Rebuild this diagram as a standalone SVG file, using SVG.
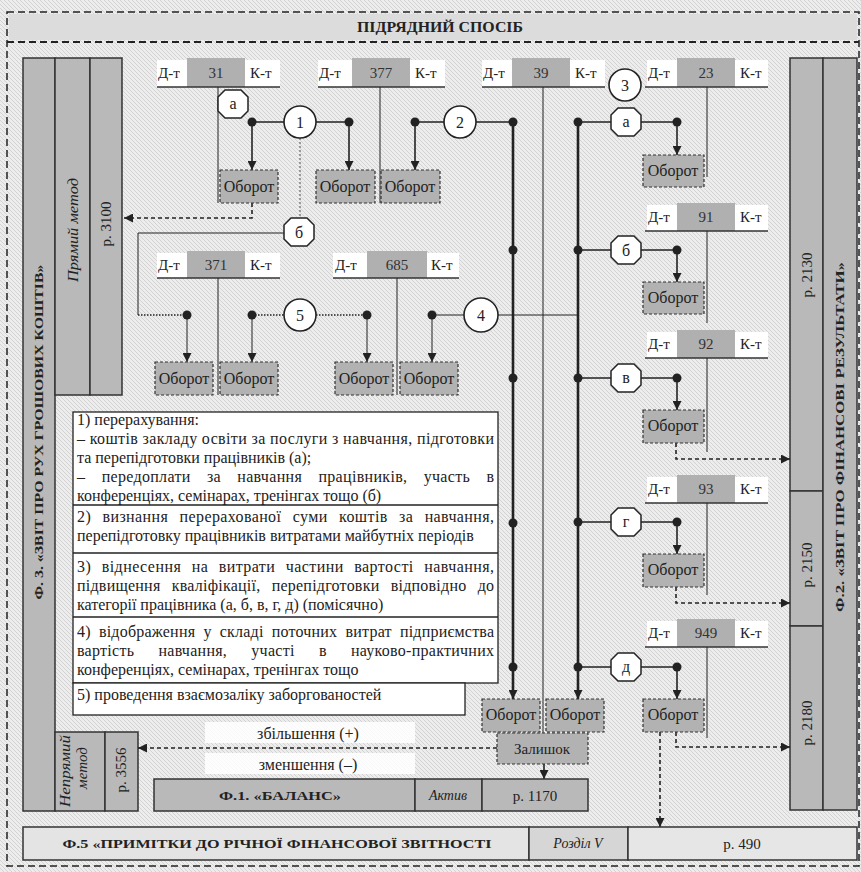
<svg xmlns="http://www.w3.org/2000/svg" width="861" height="872" viewBox="0 0 861 872">
<defs>
<pattern id="hatch" patternUnits="userSpaceOnUse" width="4" height="4">
<rect width="4" height="4" fill="#ededed"/>
<path d="M-1,-1 L5,5 M-1,3 L1,5 M3,-1 L5,1" stroke="#d2d2d2" stroke-width="1"/>
</pattern>
<marker id="ah" viewBox="0 0 10 10" refX="10" refY="5" markerWidth="9" markerHeight="9" markerUnits="userSpaceOnUse" orient="auto"><path d="M0,0 L10,5 L0,10 z" fill="#222"/></marker>
<path id="oct" d="M-8,-14 L8,-14 L15,-7 L15,7 L8,14 L-8,14 L-15,7 L-15,-7 Z"/>
</defs>
<style>
text{font-family:"Liberation Serif","Times New Roman",serif;fill:#222}
.acc{font-size:15px}
.ob-t{font-size:16px}
.num{font-size:15px;fill:#333}
.ctr{text-anchor:middle}
.b{font-weight:bold}
.i{font-style:italic}
.w{fill:#ffffff}
.g{fill:#b0b0b0}
.pan{fill:#b9b9b9;stroke:#333;stroke-width:1.5}
.ob{fill:#b2b2b2;stroke:#333;stroke-width:1.2;stroke-dasharray:3,2}
.ul{stroke:#333;stroke-width:1.5}
.thin{stroke:#222;stroke-width:1;fill:none}
.med{stroke:#222;stroke-width:1.6;fill:none}
.thick{stroke:#222;stroke-width:2.6;fill:none}
.dot{stroke:#222;stroke-width:1.5;stroke-dasharray:1.5,1.5;fill:none}
.dash{stroke:#222;stroke-width:1.6;stroke-dasharray:4,3;fill:none}
.oc{fill:#fff;stroke:#222;stroke-width:1.5}
.cir{fill:#fff;stroke:#222;stroke-width:1.6}
.lbl{font-size:16px}
.tx{font-size:16px}
.rot{font-size:15px}
</style>
<rect width="861" height="872" fill="url(#hatch)"/>
<g id="frame">
<rect x="7" y="12" width="852" height="854" fill="none" stroke="#222" stroke-width="1.5" stroke-dasharray="7,4"/>
<rect x="9" y="14" width="848" height="26" fill="#dcdcdc"/>
<line x1="7" y1="42" x2="859" y2="42" stroke="#222" stroke-width="1.8" stroke-dasharray="7,4"/>
<text x="440" y="32" class="ctr b" font-size="14" textLength="166" lengthAdjust="spacingAndGlyphs">ПІДРЯДНИЙ СПОСІБ</text>
</g>
<g id="left-panel">
<rect class="pan" x="23" y="58" width="32" height="753"/>
<rect class="pan" x="55" y="58" width="35" height="337"/>
<rect class="pan" x="90" y="58" width="32" height="337"/>
<rect class="pan" x="55" y="732" width="50" height="79"/>
<rect class="pan" x="105" y="732" width="33" height="79"/>
<text transform="translate(43,432) rotate(-90)" class="ctr b" font-size="12.5" textLength="335" lengthAdjust="spacingAndGlyphs">Ф. 3. «ЗВІТ ПРО РУХ ГРОШОВИХ КОШТІВ»</text>
<text transform="translate(78,230) rotate(-90)" class="ctr i rot" textLength="104" lengthAdjust="spacingAndGlyphs">Прямий метод</text>
<text transform="translate(111,224) rotate(-90)" class="ctr rot">р. 3100</text>
<text transform="translate(70,771) rotate(-90)" class="ctr i" font-size="15" textLength="72" lengthAdjust="spacingAndGlyphs">Непрямий</text>
<text transform="translate(87,768) rotate(-90)" class="ctr i" font-size="15">метод</text>
<text transform="translate(126,770) rotate(-90)" class="ctr" font-size="15">р. 3556</text>
</g>
<g id="right-panel">
<rect class="pan" x="790" y="58" width="33" height="433"/>
<rect class="pan" x="790" y="491" width="33" height="135"/>
<rect class="pan" x="790" y="626" width="33" height="184"/>
<rect class="pan" x="823" y="58" width="34" height="752"/>
<text transform="translate(812,275) rotate(-90)" class="ctr rot">р. 2130</text>
<text transform="translate(812,565) rotate(-90)" class="ctr rot">р. 2150</text>
<text transform="translate(812,723) rotate(-90)" class="ctr rot">р. 2180</text>
<text transform="translate(844,437) rotate(-90)" class="ctr b" font-size="12.5" textLength="350" lengthAdjust="spacingAndGlyphs">Ф.2. «ЗВІТ ПРО ФІНАНСОВІ РЕЗУЛЬТАТИ»</text>
</g>
<g id="accounts">
<g id="acc-31"><rect class="w" x="157" y="60" width="30" height="27"/><rect class="g" x="187" y="58" width="58" height="29"/><rect class="w" x="245" y="60" width="35" height="27"/><line class="ul" x1="157" y1="87" x2="280" y2="87"/><text class="acc" x="158" y="78">Д-т</text><text class="num ctr" x="216" y="78">31</text><text class="acc" x="250" y="78">К-т</text></g>
<g id="acc-377"><rect class="w" x="318" y="60" width="34" height="27"/><rect class="g" x="352" y="58" width="58" height="29"/><rect class="w" x="410" y="60" width="35" height="27"/><line class="ul" x1="318" y1="87" x2="445" y2="87"/><text class="acc" x="319" y="78">Д-т</text><text class="num ctr" x="381" y="78">377</text><text class="acc" x="415" y="78">К-т</text></g>
<g id="acc-39"><rect class="w" x="482" y="60" width="30" height="27"/><rect class="g" x="512" y="58" width="58" height="29"/><rect class="w" x="570" y="60" width="35" height="27"/><line class="ul" x1="482" y1="87" x2="605" y2="87"/><text class="acc" x="483" y="78">Д-т</text><text class="num ctr" x="541" y="78">39</text><text class="acc" x="575" y="78">К-т</text></g>
<g id="acc-23"><rect class="w" x="647" y="60" width="30" height="27"/><rect class="g" x="677" y="58" width="58" height="29"/><rect class="w" x="735" y="60" width="33" height="27"/><line class="ul" x1="645" y1="87" x2="768" y2="87"/><text class="acc" x="648" y="78">Д-т</text><text class="num ctr" x="706" y="78">23</text><text class="acc" x="740" y="78">К-т</text></g>
<g id="acc-371"><rect class="w" x="157" y="253" width="30" height="25"/><rect class="g" x="187" y="251" width="58" height="27"/><rect class="w" x="245" y="253" width="35" height="25"/><line class="ul" x1="157" y1="278" x2="280" y2="278"/><text class="acc" x="158" y="270">Д-т</text><text class="num ctr" x="216" y="270">371</text><text class="acc" x="250" y="270">К-т</text></g>
<g id="acc-685"><rect class="w" x="333" y="253" width="34" height="25"/><rect class="g" x="367" y="251" width="60" height="27"/><rect class="w" x="427" y="253" width="32" height="25"/><line class="ul" x1="333" y1="278" x2="459" y2="278"/><text class="acc" x="335" y="270">Д-т</text><text class="num ctr" x="397" y="270">685</text><text class="acc" x="431" y="270">К-т</text></g>
<g id="acc-91"><rect class="w" x="647" y="205" width="30" height="26"/><rect class="g" x="677" y="203" width="58" height="28"/><rect class="w" x="735" y="205" width="33" height="26"/><line class="ul" x1="645" y1="231" x2="768" y2="231"/><text class="acc" x="648" y="222">Д-т</text><text class="num ctr" x="706" y="222">91</text><text class="acc" x="740" y="222">К-т</text></g>
<g id="acc-92"><rect class="w" x="647" y="332" width="30" height="26"/><rect class="g" x="677" y="330" width="58" height="28"/><rect class="w" x="735" y="332" width="33" height="26"/><line class="ul" x1="645" y1="358" x2="768" y2="358"/><text class="acc" x="648" y="349">Д-т</text><text class="num ctr" x="706" y="349">92</text><text class="acc" x="740" y="349">К-т</text></g>
<g id="acc-93"><rect class="w" x="647" y="477" width="30" height="26"/><rect class="g" x="677" y="475" width="58" height="28"/><rect class="w" x="735" y="477" width="33" height="26"/><line class="ul" x1="645" y1="503" x2="768" y2="503"/><text class="acc" x="648" y="494">Д-т</text><text class="num ctr" x="706" y="494">93</text><text class="acc" x="740" y="494">К-т</text></g>
<g id="acc-949"><rect class="w" x="647" y="621" width="30" height="26"/><rect class="g" x="677" y="619" width="58" height="28"/><rect class="w" x="735" y="621" width="33" height="26"/><line class="ul" x1="645" y1="647" x2="768" y2="647"/><text class="acc" x="648" y="638">Д-т</text><text class="num ctr" x="706" y="638">949</text><text class="acc" x="740" y="638">К-т</text></g>
</g>
<g id="connectors">
<path class="thin" d="M218,87 V203 M380,87 V203 M218,278 V395 M397,278 V395 M543,87 V733 M707,87 V177 M707,231 V323 M707,358 V452 M707,503 V595 M707,647 V738"/>
<line class="thick" x1="513" y1="122" x2="513" y2="699" marker-end="url(#ah)"/>
<line class="thick" x1="578" y1="122" x2="578" y2="699" marker-end="url(#ah)"/>
<path class="med" d="M252,122 H284 M316,122 H349"/>
<line class="med" x1="252" y1="122" x2="252" y2="170" marker-end="url(#ah)"/>
<line class="med" x1="349" y1="122" x2="349" y2="170" marker-end="url(#ah)"/>
<line x1="300" y1="138" x2="300" y2="218" stroke="#9a9a9a" stroke-width="2" stroke-dasharray="2,2"/>
<path class="med" d="M415,122 H444 M476,122 H513"/>
<line class="med" x1="415" y1="122" x2="415" y2="170" marker-end="url(#ah)"/>
<path class="thin" d="M284,233 H138 V315"/>
<path class="dot" d="M138,315 H187"/>
<line class="thin" x1="187" y1="315" x2="187" y2="362" marker-end="url(#ah)"/>
<path class="dot" d="M252,315 H284 M316,315 H367"/>
<line class="thin" x1="252" y1="315" x2="252" y2="362" marker-end="url(#ah)"/>
<line class="thin" x1="367" y1="315" x2="367" y2="362" marker-end="url(#ah)"/>
<path class="thin" d="M432,315 H464 M498,315 H578"/>
<line class="thin" x1="432" y1="315" x2="432" y2="362" marker-end="url(#ah)"/>
<path class="med" d="M578,122 H611 M641,122 H677 M578,250 H611 M641,250 H677 M578,378 H611 M641,378 H677 M578,522 H611 M641,522 H677 M578,667 H611 M641,667 H677"/>
<line class="med" x1="677" y1="122" x2="677" y2="155" marker-end="url(#ah)"/>
<line class="med" x1="677" y1="250" x2="677" y2="282" marker-end="url(#ah)"/>
<line class="med" x1="677" y1="378" x2="677" y2="410" marker-end="url(#ah)"/>
<line class="med" x1="677" y1="522" x2="677" y2="554" marker-end="url(#ah)"/>
<line class="med" x1="677" y1="667" x2="677" y2="699" marker-end="url(#ah)"/>
<path class="dash" d="M252,203 V218 H124" marker-end="url(#ah)"/>
<path class="dash" d="M676,443 V459 H790" marker-end="url(#ah)"/>
<path class="dash" d="M676,587 V603 H790" marker-end="url(#ah)"/>
<path class="dash" d="M676,732 V747 H790" marker-end="url(#ah)"/>
<path class="dash" d="M660,732 V827" marker-end="url(#ah)"/>
<path class="dash" d="M497,748 H138" marker-end="url(#ah)"/>
<line class="med" x1="544" y1="764" x2="544" y2="779" marker-end="url(#ah)"/>
<g fill="#222">
<circle cx="252" cy="122" r="4.5"/><circle cx="349" cy="122" r="4.5"/><circle cx="415" cy="122" r="4.5"/>
<circle cx="513" cy="122" r="4.5"/><circle cx="578" cy="122" r="4.5"/><circle cx="677" cy="122" r="4.5"/>
<circle cx="513" cy="250" r="4.5"/><circle cx="578" cy="250" r="4.5"/><circle cx="677" cy="250" r="4.5"/>
<circle cx="513" cy="378" r="4.5"/><circle cx="578" cy="378" r="4.5"/><circle cx="677" cy="378" r="4.5"/>
<circle cx="513" cy="523" r="4.5"/><circle cx="578" cy="522" r="4.5"/><circle cx="677" cy="522" r="4.5"/>
<circle cx="513" cy="667" r="4.5"/><circle cx="578" cy="667" r="4.5"/><circle cx="677" cy="667" r="4.5"/>
<circle cx="187" cy="315" r="4.5"/><circle cx="252" cy="315" r="4.5"/><circle cx="367" cy="315" r="4.5"/><circle cx="432" cy="315" r="4.5"/>
</g>
</g>
<g id="labels">
<g id="c1"><circle class="cir" cx="300" cy="122" r="16"/><text class="lbl ctr" x="300" y="128">1</text></g>
<g id="c2"><circle class="cir" cx="460" cy="122" r="16"/><text class="lbl ctr" x="460" y="128">2</text></g>
<g id="c3"><circle class="cir" cx="625" cy="85" r="16"/><text class="lbl ctr" x="625" y="91">3</text></g>
<g id="c4"><circle class="cir" cx="481" cy="315" r="17"/><text class="lbl ctr" x="481" y="321">4</text></g>
<g id="c5"><circle class="cir" cx="300" cy="315" r="16"/><text class="lbl ctr" x="300" y="321">5</text></g>
<g id="o-a1"><use href="#oct" x="233" y="104" class="oc"/><text class="lbl ctr" x="233" y="109">а</text></g>
<g id="o-b1"><use href="#oct" x="299" y="232" class="oc"/><text class="lbl ctr" x="299" y="238">б</text></g>
<g id="o-a2"><use href="#oct" x="626" y="122" class="oc"/><text class="lbl ctr" x="626" y="127">а</text></g>
<g id="o-b2"><use href="#oct" x="626" y="250" class="oc"/><text class="lbl ctr" x="626" y="256">б</text></g>
<g id="o-v"><use href="#oct" x="626" y="378" class="oc"/><text class="lbl ctr" x="626" y="383">в</text></g>
<g id="o-g"><use href="#oct" x="626" y="522" class="oc"/><text class="lbl ctr" x="626" y="527">г</text></g>
<g id="o-d"><use href="#oct" x="626" y="667" class="oc"/><text class="lbl ctr" x="626" y="672">д</text></g>
</g>
<g id="turnovers">
<g><rect class="ob" x="220" y="170" width="58" height="33"/><text class="ob-t ctr" x="249" y="192">Оборот</text></g>
<g><rect class="ob" x="316" y="170" width="59" height="33"/><text class="ob-t ctr" x="345" y="192">Оборот</text></g>
<g><rect class="ob" x="381" y="170" width="59" height="33"/><text class="ob-t ctr" x="410" y="192">Оборот</text></g>
<g><rect class="ob" x="155" y="362" width="58" height="33"/><text class="ob-t ctr" x="184" y="384">Оборот</text></g>
<g><rect class="ob" x="220" y="362" width="58" height="33"/><text class="ob-t ctr" x="249" y="384">Оборот</text></g>
<g><rect class="ob" x="335" y="362" width="58" height="33"/><text class="ob-t ctr" x="364" y="384">Оборот</text></g>
<g><rect class="ob" x="400" y="362" width="58" height="33"/><text class="ob-t ctr" x="429" y="384">Оборот</text></g>
<g><rect class="ob" x="643" y="155" width="61" height="32"/><text class="ob-t ctr" x="673" y="176">Оборот</text></g>
<g><rect class="ob" x="643" y="282" width="61" height="32"/><text class="ob-t ctr" x="673" y="303">Оборот</text></g>
<g><rect class="ob" x="643" y="410" width="61" height="33"/><text class="ob-t ctr" x="673" y="431">Оборот</text></g>
<g><rect class="ob" x="643" y="554" width="61" height="33"/><text class="ob-t ctr" x="673" y="575">Оборот</text></g>
<g><rect class="ob" x="643" y="699" width="61" height="33"/><text class="ob-t ctr" x="673" y="720">Оборот</text></g>
<g><rect class="ob" x="482" y="699" width="58" height="33"/><text class="ob-t ctr" x="511" y="720">Оборот</text></g>
<g><rect class="ob" x="546" y="699" width="58" height="33"/><text class="ob-t ctr" x="575" y="720">Оборот</text></g>
<g id="balance-rest"><rect class="ob" x="497" y="733" width="91" height="31"/><text class="acc ctr" x="542" y="754">Залишок</text></g>
</g>
<g id="flow-labels">
<rect x="205" y="722" width="210" height="21" fill="#fff" opacity="0.85"/>
<rect x="205" y="753" width="210" height="21" fill="#fff" opacity="0.85"/>
<text class="tx ctr" x="308" y="739">збільшення (+)</text>
<text class="tx ctr" x="308" y="770">зменшення (–)</text>
</g>
<g id="legend">
<rect x="73" y="412" width="425" height="271" fill="#fff" stroke="#222" stroke-width="1.3"/>
<line x1="73" y1="505" x2="498" y2="505" stroke="#222" stroke-width="1.3"/>
<line x1="73" y1="553" x2="498" y2="553" stroke="#222" stroke-width="1.3"/>
<line x1="73" y1="617" x2="498" y2="617" stroke="#222" stroke-width="1.3"/>
<rect x="73" y="683" width="392" height="32" fill="#fff" stroke="#222" stroke-width="1.3"/>
<text class="tx" x="77" y="425">1) перерахування:</text>
<text class="tx" x="77" y="444" textLength="417" lengthAdjust="spacing">– коштів закладу освіти за послуги з навчання, підготовки</text>
<text class="tx" x="77" y="463">та перепідготовки працівників (а);</text>
<text class="tx" x="77" y="482" word-spacing="12" textLength="417" lengthAdjust="spacing">– передоплати за навчання працівників, участь в</text>
<text class="tx" x="77" y="501">конференціях, семінарах, тренінгах тощо (б)</text>
<text class="tx" x="77" y="522" word-spacing="7" textLength="417" lengthAdjust="spacing">2) визнання перерахованої суми коштів за навчання,</text>
<text class="tx" x="77" y="541">перепідготовку працівників витратами майбутніх періодів</text>
<text class="tx" x="77" y="572" word-spacing="6" textLength="417" lengthAdjust="spacing">3) віднесення на витрати частини вартості навчання,</text>
<text class="tx" x="77" y="591" word-spacing="7" textLength="417" lengthAdjust="spacing">підвищення кваліфікації, перепідготовки відповідно до</text>
<text class="tx" x="77" y="610">категорії працівника (а, б, в, г, д) (помісячно)</text>
<text class="tx" x="77" y="637" word-spacing="4" textLength="417" lengthAdjust="spacing">4) відображення у складі поточних витрат підприємства</text>
<text class="tx" x="77" y="656" word-spacing="20" textLength="417" lengthAdjust="spacing">вартість навчання, участі в науково-практичних</text>
<text class="tx" x="77" y="675">конференціях, семінарах, тренінгах тощо</text>
<text class="tx" x="77" y="700">5) проведення взаємозаліку заборгованостей</text>
</g>
<g id="balance">
<rect class="pan" x="154" y="779" width="261" height="32"/>
<rect class="pan" x="415" y="779" width="67" height="32"/>
<rect class="pan" x="482" y="779" width="106" height="32"/>
<text class="ctr b" font-size="13" x="280" y="800" textLength="122" lengthAdjust="spacingAndGlyphs">Ф.1. «БАЛАНС»</text>
<text class="ctr i" font-size="14" x="448" y="800">Актив</text>
<text class="ctr" font-size="15" x="535" y="801">р. 1170</text>
</g>
<g id="notes">
<rect x="23" y="827" width="506" height="33" fill="#e4e4e4" stroke="#333" stroke-width="1.5"/>
<rect x="529" y="827" width="99" height="33" fill="#d6d6d6" stroke="#333" stroke-width="1.5"/>
<rect x="628" y="827" width="229" height="33" fill="#e6e6e6" stroke="#333" stroke-width="1.5"/>
<text class="ctr b" font-size="13" x="277" y="848" textLength="429" lengthAdjust="spacingAndGlyphs">Ф.5 «ПРИМІТКИ ДО РІЧНОЇ ФІНАНСОВОЇ ЗВІТНОСТІ</text>
<text class="ctr i" font-size="14" x="578" y="848">Розділ V</text>
<text class="ctr" font-size="15" x="742" y="849">р. 490</text>
</g>
</svg>
